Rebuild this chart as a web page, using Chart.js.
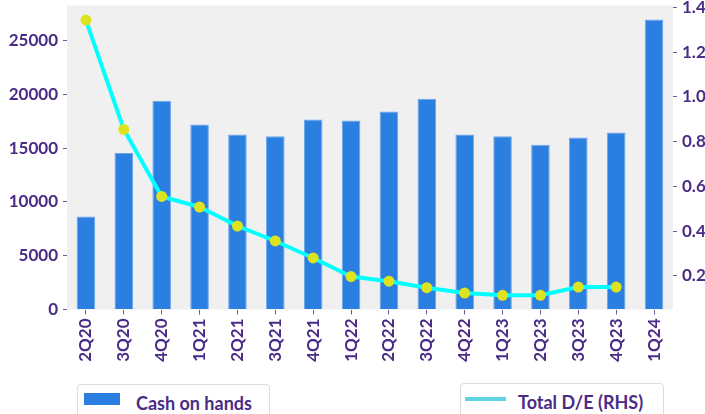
<!DOCTYPE html>
<html>
<head>
<meta charset="utf-8">
<script src="https://cdn.jsdelivr.net/npm/chart.js@4.4.1/dist/chart.umd.min.js"></script>
<style>
  html, body { margin: 0; padding: 0; background: #ffffff; overflow: hidden; }
  #wrap { position: relative; width: 705px; height: 414px; overflow: hidden; background: #fff; }
  #c { position: absolute; left: 0; top: 0; }
  .lg { position: absolute; box-sizing: border-box; border: 1.5px solid #dcdcdc; border-radius: 4px;
        background: #fff; height: 44px; font-family: Lato, "Noto Sans", sans-serif; font-weight: bold;
        font-size: 18px; color: #4a2c86; }
  .lg span.t { position: absolute; top: 7px; white-space: nowrap; }
  .patch { position: absolute; left: 6px; top: 8px; width: 36px; height: 12px; background: #2a7fe0; }
  .ln { position: absolute; left: 4px; top: 13px; width: 41px; height: 4px; background: #5fd3e0; }
</style>
</head>
<body>
<div id="wrap">
  <canvas id="c" width="740" height="370"></canvas>
  <div class="lg" style="left:77px; top:384px; width:193px;">
    <div class="patch"></div><span class="t" style="left:58px;">Cash on hands</span>
  </div>
  <div class="lg" style="left:460px; top:383px; width:204px;">
    <div class="ln"></div><span class="t" style="left:57px;">Total D/E (RHS)</span>
  </div>
</div>
<script>
const categories = ["2Q20","3Q20","4Q20","1Q21","2Q21","3Q21","4Q21","1Q22","2Q22","3Q22","4Q22","1Q23","2Q23","3Q23","4Q23","1Q24"];
const cashOnHands = [8640, 14550, 19390, 17190, 16270, 16090, 17650, 17560, 18410, 19580, 16270, 16090, 15310, 15990, 16450, 26960];
const totalDE = [1.344, 0.855, 0.555, 0.508, 0.423, 0.356, 0.280, 0.197, 0.176, 0.147, 0.123, 0.113, 0.113, 0.150, 0.150, null];
const leftTicks = [0, 5000, 10000, 15000, 20000, 25000];
const rightTicks = [0.2, 0.4, 0.6, 0.8, 1.0, 1.2, 1.4];

const PURPLE = '#4a2c86';
const FONT = 'Lato, "Noto Sans", sans-serif';
const CANVAS_W = 740, CANVAS_H = 370;
const PLOT_L = 67, PLOT_R = 673, PLOT_B = 309.5, PLOT_T = 2;

const bgPlugin = {
  id: 'plotBg',
  beforeDraw(chart) {
    const a = chart.chartArea, ctx = chart.ctx;
    ctx.save();
    ctx.fillStyle = '#f0f0f0';
    ctx.fillRect(a.left, a.top, a.right - a.left, a.bottom - a.top);
    ctx.restore();
  }
};

function noPad(s) { s.paddingTop = 0; s.paddingBottom = 0; }

new Chart(document.getElementById('c'), {
  data: {
    labels: categories,
    datasets: [
      {
        type: 'line', label: 'Total D/E (RHS)', data: totalDE, yAxisID: 'y1', order: 0,
        borderColor: '#00ffff', borderWidth: 4, tension: 0,
        pointRadius: 5.5, pointBackgroundColor: '#dde31e', pointBorderColor: '#dde31e', pointBorderWidth: 0,
        spanGaps: false
      },
      {
        type: 'bar', label: 'Cash on hands', data: cashOnHands, yAxisID: 'y', order: 1,
        backgroundColor: '#2a7fe0', borderColor: '#6aa5ea', borderWidth: 1,
        categoryPercentage: 1.0, barPercentage: 0.49
      }
    ]
  },
  options: {
    responsive: false,
    devicePixelRatio: 1,
    animation: false,
    layout: { padding: { top: PLOT_T, left: 0, right: 0, bottom: 0 } },
    plugins: { legend: { display: false }, tooltip: { enabled: false } },
    scales: {
      x: {
        type: 'category',
        offset: true,
        grid: { display: true, drawOnChartArea: false, drawTicks: true, tickLength: 5, color: '#6a5a9a', offset: false },
        border: { display: false },
        ticks: { color: PURPLE, font: { family: FONT, size: 17, weight: 'bold' }, minRotation: 90, maxRotation: 90, padding: 4, autoSkip: false },
        afterFit(s) { s.height = CANVAS_H - PLOT_B; s.paddingLeft = 0; s.paddingRight = 0; }
      },
      y: {
        type: 'linear', position: 'left', min: 0, max: 28250,
        grid: { display: true, drawOnChartArea: false, drawTicks: true, tickLength: 4, color: '#6a5a9a' },
        border: { display: false },
        ticks: { color: PURPLE, font: { family: FONT, size: 17, weight: 'bold' }, padding: 5,
                 callback: v => String(Math.round(v)) },
        afterBuildTicks(s) { s.ticks = leftTicks.map(v => ({ value: v })); },
        afterFit(s) { s.width = PLOT_L; noPad(s); }
      },
      y1: {
        type: 'linear', position: 'right', min: 0.0496, max: 1.409,
        grid: { display: true, drawOnChartArea: false, drawTicks: true, tickLength: 4, color: '#6a5a9a' },
        border: { display: false },
        ticks: { color: PURPLE, font: { family: FONT, size: 17, weight: 'bold' }, padding: 5,
                 callback: v => Number(v).toFixed(1) },
        afterBuildTicks(s) { s.ticks = rightTicks.map(v => ({ value: v })); },
        afterFit(s) { s.width = CANVAS_W - PLOT_R; noPad(s); }
      }
    }
  },
  plugins: [bgPlugin]
});
</script>
</body>
</html>
